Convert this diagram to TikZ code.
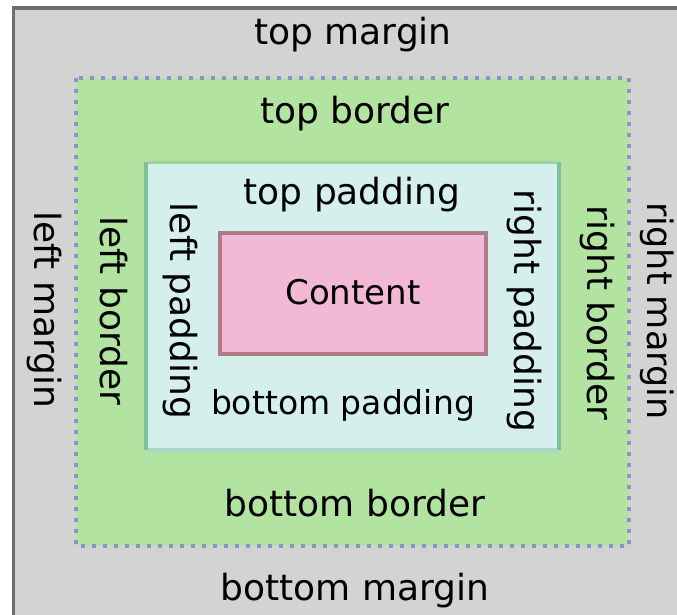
\documentclass[tikz,border=0pt]{standalone}
\usepackage{fontspec}
\setmainfont{DejaVu Sans}
\definecolor{margingray}{HTML}{D3D3D3}
\definecolor{outerline}{HTML}{6E6E6E}
\definecolor{bordergreen}{HTML}{B3E3A0}
\definecolor{dotblue}{HTML}{8C94C8}
\definecolor{padcyan}{HTML}{D5F0EC}
\definecolor{padline}{HTML}{80C09C}
\definecolor{padtop}{HTML}{9CD49C}
\definecolor{padbot}{HTML}{A8D8C8}
\definecolor{contentpink}{HTML}{F3B8D6}
\definecolor{contentline}{HTML}{B07C84}
\tikzset{
  lbl/.style={font=\fontsize{36}{40}\selectfont, text=black, inner sep=0pt, anchor=base},
  vlbl/.style={lbl, rotate=-90},
}
\begin{document}
\begin{tikzpicture}[x=1pt,y=-1pt]
\useasboundingbox (0,0) rectangle (677,615);
\clip (0,0) rectangle (677,615);
\fill[white] (0,0) rectangle (677,615);
% margin area
\fill[margingray] (13.5,8) rectangle (700,640);
\draw[outerline, line width=3.5pt] (13.5,700) -- (13.5,8) -- (700,8);
% border area
\fill[bordergreen] (76,78) rectangle (629,546);
\draw[dotblue, line width=4pt, dash pattern=on 4pt off 7pt] (76,78) rectangle (629,546);
% padding area
\fill[padcyan] (146,162) rectangle (559,450);
\draw[padline, line width=4pt] (146,162) -- (146,450);
\draw[padline, line width=4pt] (559,162) -- (559,450);
\draw[padtop, line width=3pt] (148,162.5) -- (557,162.5);
\draw[padbot, line width=4pt] (148,450) -- (557,450);
% content
\node[draw=contentline, fill=contentpink, line width=4pt, minimum width=266pt, minimum height=121pt, inner sep=0pt] (content) at (353,293.5) {};
% labels
\node[lbl] (tm) at (353,45) {top margin};
\node[lbl] (tb) at (355,124) {top border};
\node[lbl] (tp) at (352,204) {top padding};
\node[lbl, font=\fontsize{34}{40}\selectfont] (ct) at (353,304) {Content};
\node[lbl, font=\fontsize{33}{40}\selectfont] (bp) at (343,414) {bottom padding};
\node[lbl] (bb) at (355,516) {bottom border};
\node[lbl] (bm) at (355,600) {bottom margin};
\node[vlbl] (lm) at (34,310) {left margin};
\node[vlbl] (lb) at (100,311) {left border};
\node[vlbl] (lp) at (170,311) {left padding};
\node[vlbl] (rp) at (514,311) {right padding};
\node[vlbl] (rb) at (587,313) {right border};
\node[vlbl, font=\fontsize{35}{40}\selectfont] (rm) at (647,311) {right margin};
\end{tikzpicture}
\end{document}
